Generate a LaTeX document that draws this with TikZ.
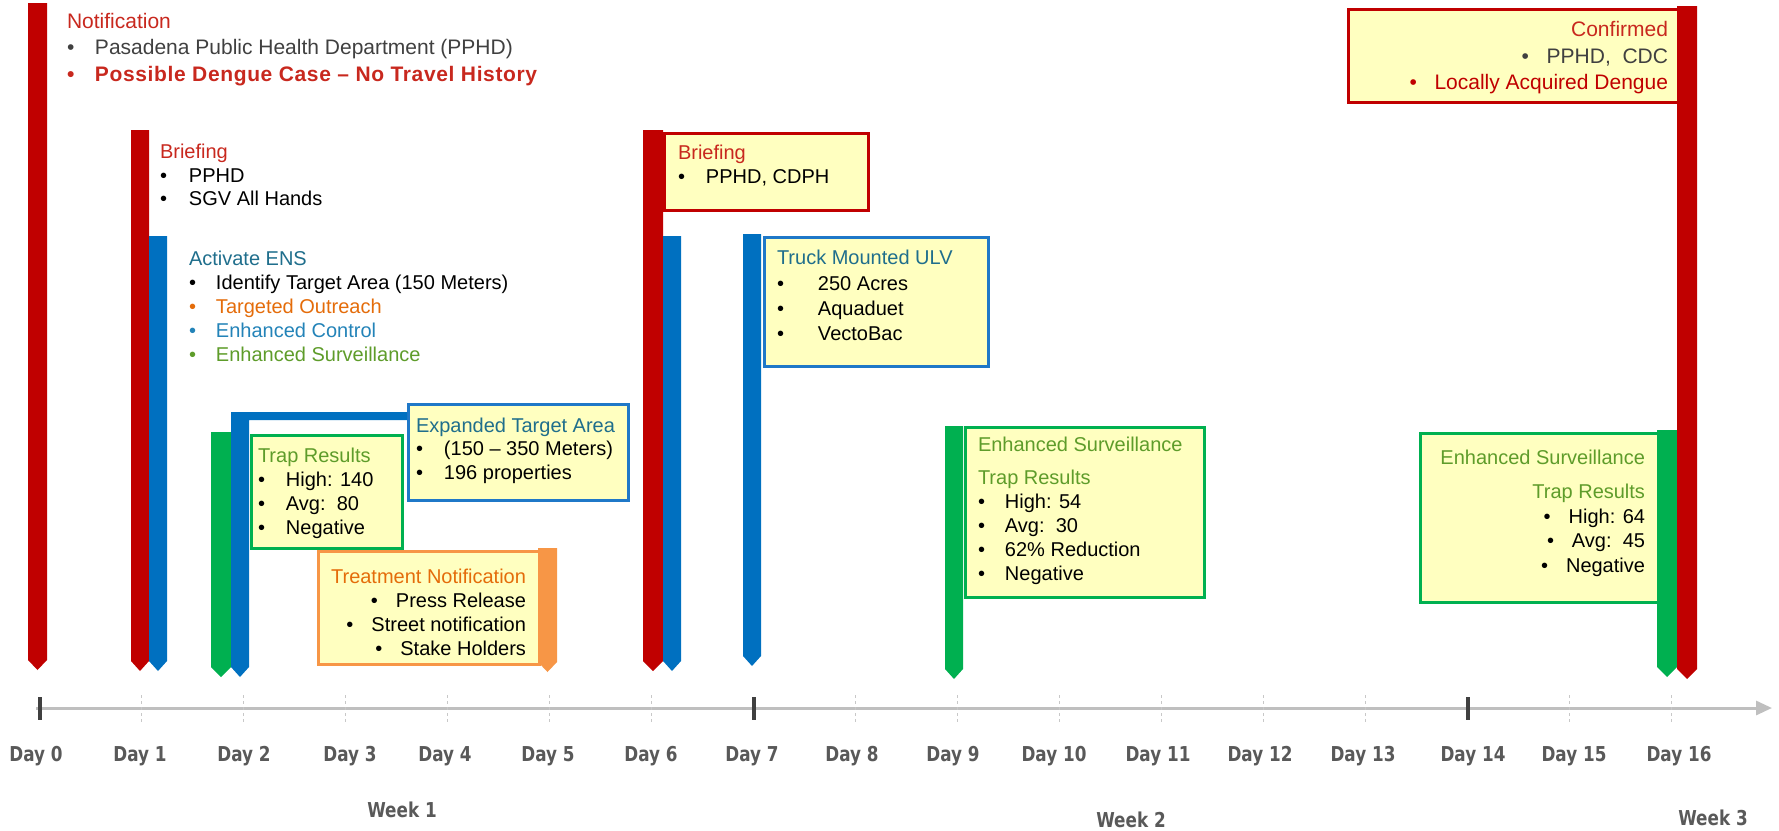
\documentclass[tikz,border=0pt]{standalone}
\usepackage{fontspec}
\setmainfont{Liberation Sans}
\newfontfamily\dayfont{DejaVu Sans}[FakeStretch=0.82]
\usetikzlibrary{arrows.meta}

\definecolor{barred}{HTML}{C00000}
\definecolor{barblue}{HTML}{0070C0}
\definecolor{bargreen}{HTML}{00B050}
\definecolor{barorange}{HTML}{F79646}
\definecolor{boxfill}{HTML}{FFFFC0}
\definecolor{boxblue}{HTML}{1F78C8}
\definecolor{ttred}{HTML}{C8281E}
\definecolor{ttteal}{HTML}{1F6E8C}
\definecolor{ttblue}{HTML}{2383B8}
\definecolor{ttgreen}{HTML}{5E9C2A}
\definecolor{ttorange}{HTML}{E46C0A}
\definecolor{txgray}{HTML}{404040}
\definecolor{axisgray}{HTML}{BFBFBF}
\definecolor{tickdark}{HTML}{404040}
\definecolor{ticklight}{HTML}{C8C8C8}
\definecolor{daygray}{HTML}{595959}

\newcommand{\bul}[2][28pt]{\makebox[#1][l]{•}#2}
\newcommand{\flagbar}[5]{%
  \fill[#5] (#1,#3) -- (#2,#3) -- (#2,#4-10) -- ({(#1+#2)/2},#4) -- (#1,#4-10) -- cycle;}

\tikzset{
  txt/.style={inner sep=0pt, outer sep=0pt, align=left, anchor=north west,
              font=\fontsize{20}{24}\selectfont},
  txtr/.style={txt, align=right, anchor=north east},
  infobox/.style={draw, line width=2.5pt, fill=boxfill, inner sep=0pt, anchor=north west},
  daylab/.style={font=\dayfont\bfseries\fontsize{20.5}{22}\selectfont, text=daygray, inner sep=0pt},
}

\begin{document}
\begin{tikzpicture}[x=1pt,y=-1pt]
\useasboundingbox (0,0) rectangle (1779,830);

% ---------- boxes ----------
\node[infobox, draw=barred, minimum width=204pt, minimum height=77pt] (bbrief6) at (663,132) {};
\node[infobox, draw=boxblue, minimum width=224pt, minimum height=129pt] (btruck) at (763,236) {};
\node[infobox, draw=boxblue, minimum width=220pt, minimum height=96pt] (bexp) at (407,403) {};
\node[infobox, draw=bargreen, minimum width=151pt, minimum height=113pt] (btrap2) at (250,434) {};
\node[infobox, draw=barorange, minimum width=221pt, minimum height=113pt] (btreat) at (317,550) {};
\node[infobox, draw=bargreen, minimum width=239pt, minimum height=170pt] (bes9) at (964,426) {};
\node[infobox, draw=barred, minimum width=331pt, minimum height=93pt] (bconf) at (1347,8) {};
\node[infobox, draw=bargreen, minimum width=239pt, minimum height=169pt] (bes16) at (1419,432) {};

% ---------- flag bars ----------
\flagbar{28}{47}{3}{670}{barred}
\flagbar{131}{149}{130}{671}{barred}
\flagbar{149}{167}{236}{671}{barblue}
\flagbar{211}{231}{432}{677}{bargreen}
\fill[barblue] (231,412) -- (407,412) -- (407,420) -- (249,420) -- (249,667) -- (240,677) -- (231,667) -- cycle;
\flagbar{538}{557}{548}{672}{barorange}
\flagbar{643}{663}{130}{671}{barred}
\flagbar{663}{681}{236}{671}{barblue}
\flagbar{743}{761}{234}{666}{barblue}
\flagbar{945}{963}{426}{679}{bargreen}
\flagbar{1657}{1677}{430}{677}{bargreen}
\flagbar{1677}{1697}{6}{679}{barred}

% ---------- texts ----------
\node[txt, font=\fontsize{21}{26.5}\selectfont] (notif) at (67,13)
  {\color{ttred}Notification\\
   \color{txgray}\bul{Pasadena Public Health Department (PPHD)}\\
   \color{ttred}\bfseries\bul{\addfontfeature{LetterSpace=3}Possible Dengue Case – No Travel History}};

\node[txt, font=\fontsize{20}{23.5}\selectfont] (brief1) at (160,144.5)
  {\color{ttred}Briefing\\
   \color{black}\bul[29pt]{PPHD}\\
   \color{black}\bul[29pt]{SGV All Hands}};

\node[txt] (ens) at (189,251.5)
  {\color{ttteal}Activate ENS\\
   \color{black}\bul[27pt]{Identify Target Area (150 Meters)}\\
   \color{ttorange}\bul[27pt]{Targeted Outreach}\\
   \color{ttblue}\bul[27pt]{Enhanced Control}\\
   \color{ttgreen}\bul[27pt]{Enhanced Surveillance}};

\node[txt] (brief6) at (678,145.5)
  {\color{ttred}Briefing\\
   \color{black}\bul{PPHD, CDPH}};

\node[txt, font=\fontsize{20}{25.3}\selectfont] (truck) at (777,250.5)
  {\color{ttteal}Truck Mounted ULV\\
   \color{black}\bul[41pt]{250 Acres}\\
   \color{black}\bul[41pt]{Aquaduet}\\
   \color{black}\bul[41pt]{VectoBac}};

\node[txt, font=\fontsize{20}{23.5}\selectfont] (expand) at (416,417.5)
  {\color{ttteal}Expanded Target Area\\
   \color{black}\bul{(150 – 350 Meters)}\\
   \color{black}\bul{196 properties}};

\node[txt] (trap2) at (258,447.5)
  {\color{ttgreen}Trap Results\\
   \color{black}\bul{High: 140}\\
   \color{black}\bul{Avg:\ \ 80}\\
   \color{black}\bul{Negative}};

\node[txtr] (treat) at (526,568.5)
  {\color{ttorange}Treatment Notification\\
   \color{black}\bul[25pt]{Press Release}\\
   \color{black}\bul[25pt]{Street notification}\\
   \color{black}\bul[25pt]{Stake Holders}};

\node[txt] (es9) at (978,436.5)
  {\color{ttgreen}Enhanced Surveillance\\[9pt]
   \color{ttgreen}Trap Results\\
   \color{black}\bul[27pt]{High: 54}\\
   \color{black}\bul[27pt]{Avg:\ \ 30}\\
   \color{black}\bul[27pt]{62\% Reduction}\\
   \color{black}\bul[27pt]{Negative}};

\node[txtr, font=\fontsize{21}{26.5}\selectfont] (conf) at (1668,21.5)
  {\color{ttred}Confirmed\\
   \color{txgray}\bul[25pt]{PPHD,\ \ CDC}\\
   \color{barred}\bul[25pt]{Locally Acquired Dengue}};

\node[txtr, font=\fontsize{20}{24.5}\selectfont] (es16) at (1645,449.5)
  {\color{ttgreen}Enhanced Surveillance\\[10pt]
   \color{ttgreen}Trap Results\\
   \color{black}\bul[25pt]{High: 64}\\
   \color{black}\bul[25pt]{Avg:\ \ 45}\\
   \color{black}\bul[25pt]{Negative}};

% ---------- time axis ----------
\coordinate (axs) at (36,708);
\coordinate (axe) at (1772,708);
\draw[axisgray, line width=3pt, -{Triangle[length=16pt,width=14pt]}] (axs) -- (axe);
\foreach \i in {1,2,3,4,5,6,8,9,10,11,12,13,15,16}
  \draw[ticklight, dashed, line width=1.2pt] ({39.5+102*\i},695) -- ++(0,27);
\foreach \i in {0,7,14}
  \draw[tickdark, line width=4pt] ({39.5+102*\i},697) -- ++(0,23);

\foreach \x/\t in {36/0, 140/1, 244/2, 350/3, 445/4, 548/5, 651/6, 752/7, 852/8,
                   953/9, 1054/10, 1158/11, 1260/12, 1363/13, 1473/14, 1574/15, 1679/16}
  \node[daylab] (d\t) at (\x,756) {Day \t};

\node[daylab] (w1) at (402,810) {Week 1};
\node[daylab] (w2) at (1131,820) {Week 2};
\node[daylab] (w3) at (1713,818) {Week 3};
\end{tikzpicture}
\end{document}
